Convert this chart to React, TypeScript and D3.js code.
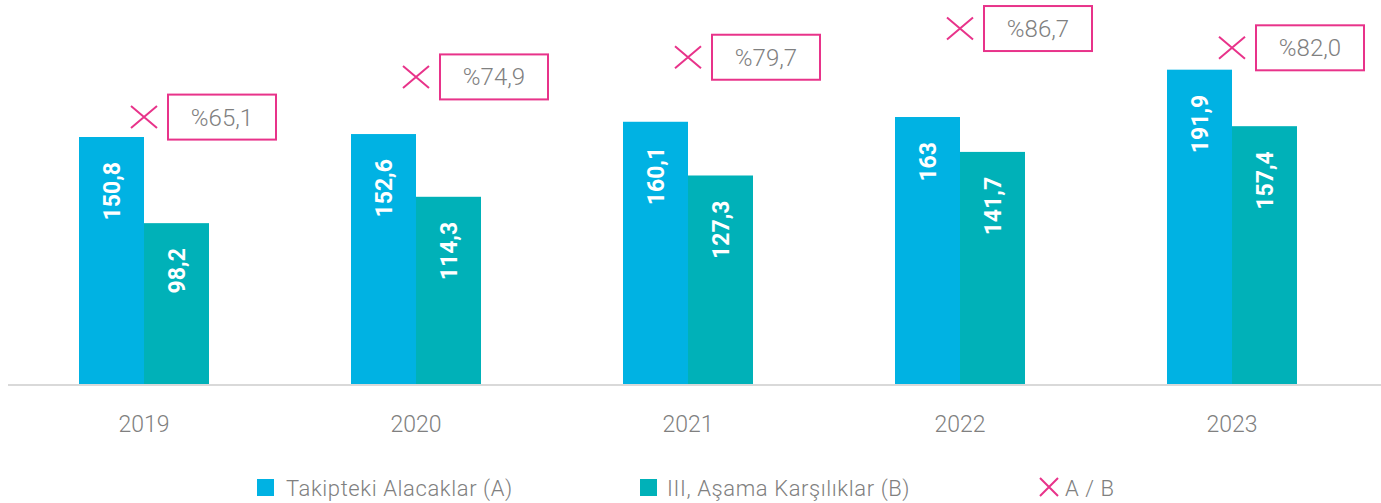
import React from "react";
import * as d3 from "d3";

const years = ["2019", "2020", "2021", "2022", "2023"];
const seriesA = [150.8, 152.6, 160.1, 163, 191.9];
const seriesB = [98.2, 114.3, 127.3, 141.7, 157.4];
const ratio = [65.1, 74.9, 79.7, 86.7, 82.0];
const labelsA = ["150,8", "152,6", "160,1", "163", "191,9"];
const labelsB = ["98,2", "114,3", "127,3", "141,7", "157,4"];
const ratioLabels = ["%65,1", "%74,9", "%79,7", "%86,7", "%82,0"];
const legendNames = ["Takipteki Alacaklar (A)", "III, Aşama Karşılıklar (B)", "A / B"];

const W = 1381;
const H = 503;
const colA = "#00b2e3";
const colB = "#00b1b8";
const pink = "#e8338a";
const gray = "#808080";
const font = "Roboto, 'Noto Sans', sans-serif";

export default function App() {
  const baseY = 384;
  const x0 = d3.scaleBand<string>().domain(years).range([8, 1368]).paddingInner(0).paddingOuter(0);
  const x1 = d3.scaleBand<string>().domain(["A", "B"]).range([x0.bandwidth() / 2 - 65, x0.bandwidth() / 2 + 65]);
  const y = d3.scaleLinear().domain([0, 150.8]).range([baseY, 137]);
  const y2 = d3.scaleLinear().domain([0, 93.66]).range([baseY, 0]);
  const xs = 13;
  const ys = 11;

  return (
    <svg width={W} height={H} style={{ position: "absolute", left: 0, top: 0 }} fontFamily={font}>
      <line x1={8} x2={1381} y1={baseY + 1} y2={baseY + 1} stroke="#d9d9d9" strokeWidth={2} />
      {years.map((yr, i) => {
        const gx = x0(yr)!;
        const cx = gx + x0.bandwidth() / 2;
        const xa = gx + x1("A")!;
        const xb = gx + x1("B")!;
        const ya = y(seriesA[i]);
        const yb = y(seriesB[i]);
        const my = y2(ratio[i]);
        return (
          <g key={yr}>
            <rect x={xa} y={ya} width={x1.bandwidth()} height={baseY - ya} fill={colA} />
            <rect x={xb} y={yb} width={x1.bandwidth()} height={baseY - yb} fill={colB} />
            <text
              transform={`translate(${xa + x1.bandwidth() / 2 + 8},${ya + 25}) rotate(-90)`}
              textAnchor="end"
              fill="#fff"
              fontWeight={700}
              fontSize={23}
            >
              {labelsA[i]}
            </text>
            <text
              transform={`translate(${xb + x1.bandwidth() / 2 + 8},${yb + 25}) rotate(-90)`}
              textAnchor="end"
              fill="#fff"
              fontWeight={700}
              fontSize={23}
            >
              {labelsB[i]}
            </text>
            <path
              d={`M${cx - xs},${my - ys}L${cx + xs},${my + ys}M${cx - xs},${my + ys}L${cx + xs},${my - ys}`}
              stroke={pink}
              strokeWidth={2}
              fill="none"
            />
            <rect x={cx + 24} y={my - 22.5} width={108} height={45} fill="#fff" stroke={pink} strokeWidth={2} />
            <text x={cx + 78} y={my + 8.5} textAnchor="middle" fill={gray} fontSize={24} fontWeight={300}>
              {ratioLabels[i]}
            </text>
            <text x={cx} y={432} textAnchor="middle" fill={gray} fontSize={23} fontWeight={300}>
              {yr}
            </text>
          </g>
        );
      })}
      <g>
        <rect x={257} y={479} width={17} height={17} fill={colA} />
        <text x={286} y={496} fill={gray} fontSize={22} fontWeight={300} letterSpacing={0.6}>{legendNames[0]}</text>
        <rect x={640} y={479} width={17} height={17} fill={colB} />
        <text x={667} y={496} fill={gray} fontSize={22} fontWeight={300} letterSpacing={0.6}>{legendNames[1]}</text>
        <path d="M1040,478L1058,496M1040,496L1058,478" stroke={pink} strokeWidth={2} fill="none" />
        <text x={1065} y={496} fill={gray} fontSize={22} fontWeight={300} letterSpacing={0.6}>{legendNames[2]}</text>
      </g>
    </svg>
  );
}
